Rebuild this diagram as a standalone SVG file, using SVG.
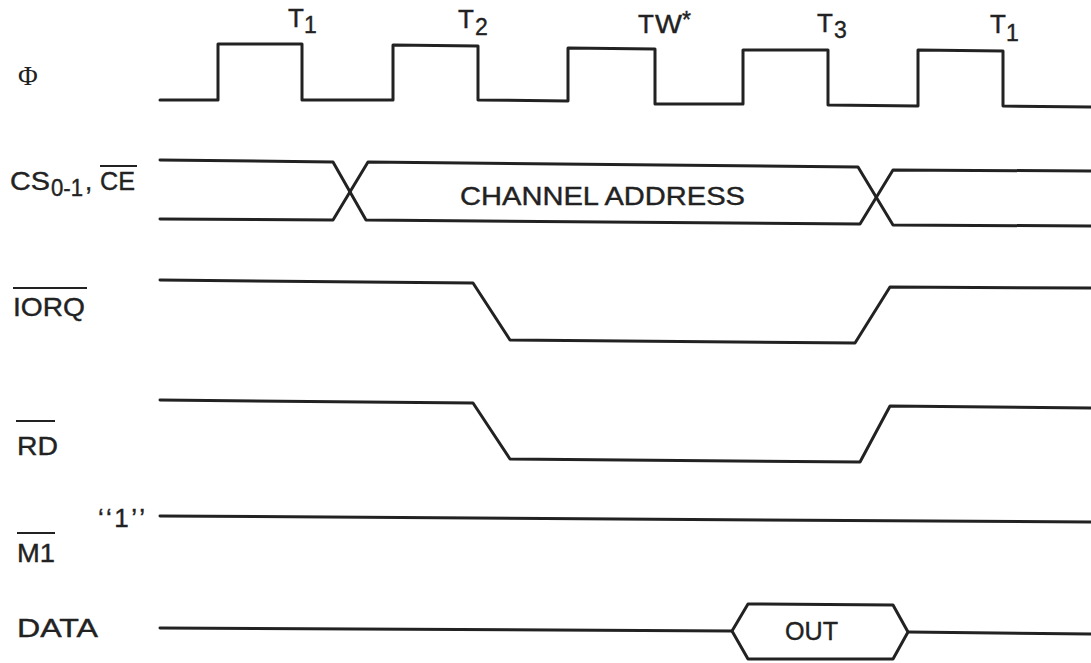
<svg xmlns="http://www.w3.org/2000/svg" width="1091" height="663" viewBox="0 0 1091 663">
<style>
.w{fill:none;stroke:#222;stroke-width:3;stroke-linejoin:round;stroke-linecap:round}
.t{font-family:"Liberation Sans",Arial,sans-serif;font-size:26px;fill:#222;stroke:#222;stroke-width:0.4}
.s{font-size:23px}
.o{stroke:#222;stroke-width:2}
</style>
<rect width="1091" height="663" fill="#fff"/>
<g id="labels">
<text x="18" y="85" style="font-family:'Liberation Serif',serif;font-size:27px;fill:#222">Φ</text>
<text x="10" y="190" class="t" textLength="40" lengthAdjust="spacingAndGlyphs">CS</text>
<text x="51" y="196" class="t s" textLength="32" lengthAdjust="spacingAndGlyphs">0-1</text>
<text x="85" y="190" class="t">,</text>
<text x="100" y="190" class="t" textLength="35" lengthAdjust="spacingAndGlyphs">CE</text>
<line class="o" x1="100" y1="166" x2="137" y2="166"/>
<text x="13" y="316" class="t" textLength="72" lengthAdjust="spacingAndGlyphs">IORQ</text>
<line class="o" x1="13" y1="288" x2="87" y2="288"/>
<text x="17" y="455" class="t" textLength="41" lengthAdjust="spacingAndGlyphs">RD</text>
<line class="o" x1="16" y1="421" x2="55" y2="421"/>
<text x="98" y="527" class="t" textLength="47" lengthAdjust="spacing">‘‘1’’</text>
<text x="17" y="562" class="t" textLength="38" lengthAdjust="spacingAndGlyphs">M1</text>
<line class="o" x1="17" y1="533" x2="55" y2="533"/>
<text x="17" y="637" class="t" textLength="81" lengthAdjust="spacingAndGlyphs">DATA</text>
</g>
<g id="clock-labels">
<text x="288" y="27" class="t">T</text><text x="304" y="33" class="t s">1</text>
<text x="458" y="28" class="t">T</text><text x="475" y="35" class="t s">2</text>
<text x="638" y="33" class="t">T</text><text x="655" y="33" class="t" textLength="27" lengthAdjust="spacingAndGlyphs">W</text><text x="682" y="28" class="t s">*</text>
<text x="817" y="32" class="t">T</text><text x="834" y="38" class="t s">3</text>
<text x="990" y="33" class="t">T</text><text x="1006" y="41" class="t s">1</text>
</g>
<g id="connectors">
<g id="phi">
<path class="w" d="M160,100 L218,100 L218,44 L302,44 L302,100 L393,100 L393,45 L478,46 L478,100 L568,101 L568,48 L655,49 L655,104 L743,104 L743,50 L828,50 L828,105 L918,106 L918,50 L1003,51 L1003,106 L1091,107"/>
</g>
<g id="cs">
<path class="w" d="M160,160 L333,162 L366,220 L860,224 L893,170 L1091,171"/>
<path class="w" d="M160,219 L333,220 L368,162 L858,167 L893,225 L1091,226"/>
</g>
<g id="iorq">
<path class="w" d="M160,280 L473,283 L510,340 L855,343 L890,287 L1091,288"/>
</g>
<g id="rd">
<path class="w" d="M160,400 L473,403 L510,459 L860,462 L890,406 L1091,408"/>
</g>
<g id="m1">
<path class="w" d="M160,516 L1091,522"/>
</g>
<g id="data">
<path class="w" d="M160,628 L732,631"/>
<path class="w" d="M732,631 L748,604 L893,605 L908,632 L893,659 L748,659 Z"/>
<path class="w" d="M908,632 L1091,634"/>
</g>
</g>
<g id="channel-address"><text x="460" y="205" class="t" textLength="285" lengthAdjust="spacingAndGlyphs">CHANNEL ADDRESS</text></g>
<g id="out"><text x="785" y="640" class="t" textLength="53" lengthAdjust="spacingAndGlyphs">OUT</text></g>
</svg>
